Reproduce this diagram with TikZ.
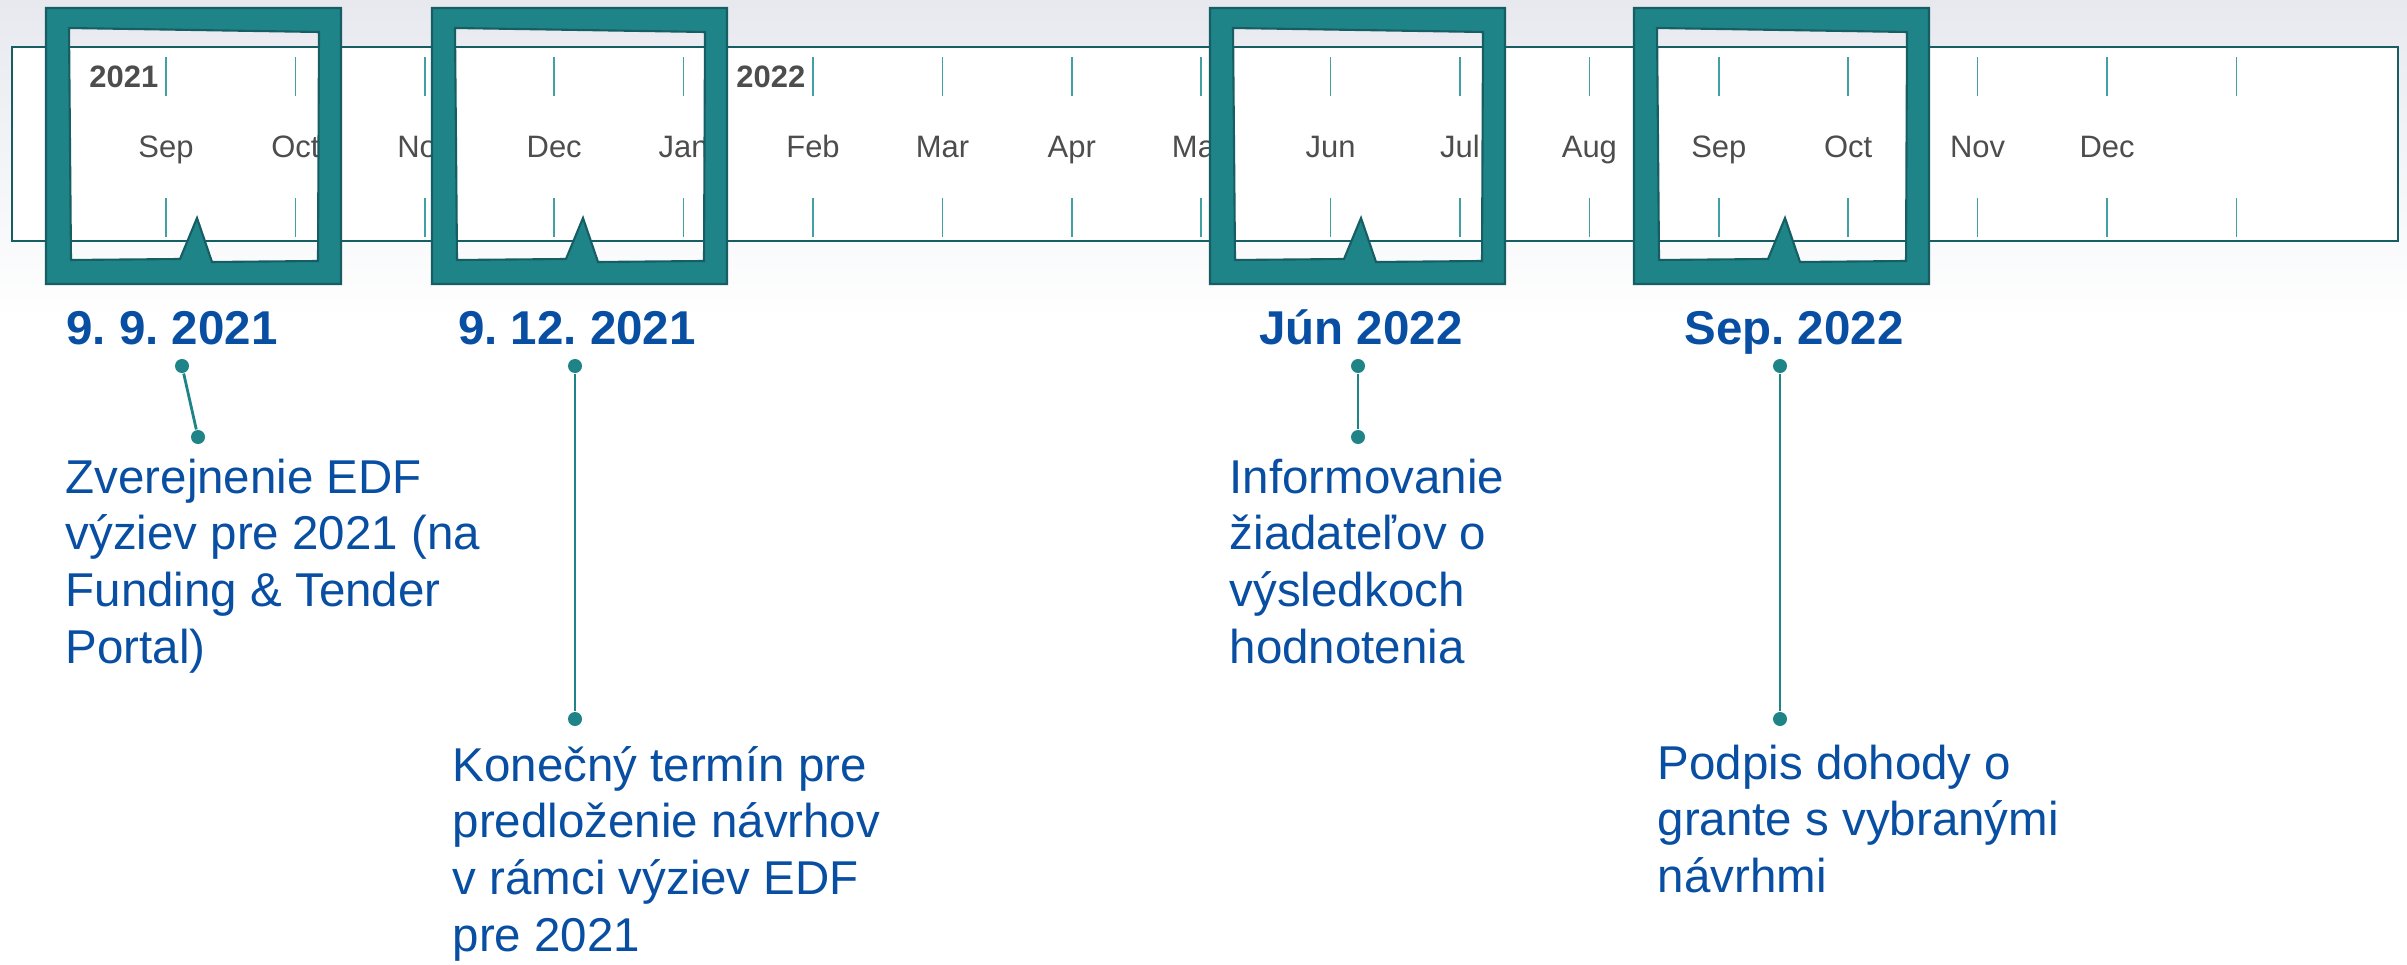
\documentclass[tikz,border=0pt]{standalone}
\usepackage{fontspec}
\setmainfont{Liberation Sans}
\frenchspacing
\definecolor{tealA}{RGB}{31,132,136}
\definecolor{tealD}{RGB}{22,94,100}
\definecolor{tickC}{RGB}{64,160,164}
\definecolor{blueT}{RGB}{8,78,162}
\definecolor{grayT}{RGB}{77,77,77}
\definecolor{bgTop}{RGB}{231,233,239}
\newcommand\fsMonth{\fontsize{8.8pt}{10pt}\selectfont}
\newcommand\fsBig{\fontsize{13.5pt}{16.2pt}\selectfont}
\newcommand\callframe[1]{%
  \begin{scope}[shift={(#1,0)}]
    \path[framestyle] (0,8) rectangle (295,284)
      (23,28) -- (273,32) -- (272,261) -- (166,262) -- (151,218) -- (134,259) -- (25,260) -- cycle;
  \end{scope}}
\tikzset{
  framestyle/.style={fill=tealA, draw=tealD, line width=0.6pt, even odd rule},
  bandstyle/.style={draw=tealD, fill=white, line width=0.7pt},
  tickstyle/.style={draw=tickC, line width=0.45pt},
  month/.style={font=\fsMonth, text=grayT, inner sep=0pt, anchor=base},
  yearlbl/.style={font=\fsMonth\bfseries, text=grayT, inner sep=0pt, anchor=base east},
  datelbl/.style={font=\fsBig\bfseries, text=blueT, inner sep=0pt, anchor=base},
  desc/.style={font=\fsBig, text=blueT, inner sep=0pt, anchor=base west},
  dot/.style={circle, fill=tealA, inner sep=0pt, minimum size=0.14cm},
  conn/.style={draw=tealA, line width=0.8pt}
}
\begin{document}
\begin{tikzpicture}[x=0.01cm, y=-0.01cm]
\useasboundingbox (0,0) rectangle (2407,964);
% background
\fill[white] (0,0) rectangle (2407,964);
\shade[top color=bgTop, bottom color=white] (0,0) rectangle (2407,320);
% band
\path[bandstyle] (12,47) rectangle (2398,241);
\foreach \k in {0,...,16} {
  \draw[tickstyle] ({166+129.4*\k},57) -- ({166+129.4*\k},96);
  \draw[tickstyle] ({166+129.4*\k},198) -- ({166+129.4*\k},237);
}
\foreach \m [count=\i from 0] in {Sep,Oct,Nov,Dec,Jan,Feb,Mar,Apr,May,Jun,Jul,Aug,Sep,Oct,Nov,Dec} {
  \node[month] (m\i) at ({166+129.4*\i},158) {\m};
}
\node[yearlbl] (y2021) at (159,88) {2021};
\node[yearlbl] (y2022) at (806,88) {2022};
% callout frames
\callframe{46}
\callframe{432}
\callframe{1210}
\callframe{1634}
% dates
\node[datelbl] (date1) at (172,344) {9. 9. 2021};
\node[datelbl] (date2) at (577,344) {9. 12. 2021};
\node[datelbl] (date3) at (1361,344) {Jún 2022};
\node[datelbl] (date4) at (1794,344) {Sep. 2022};
% dots and connectors
\node[dot] (d1a) at (182,366) {};
\node[dot] (d1b) at (198,437) {};
\node[dot] (d2a) at (575,366) {};
\node[dot] (d2b) at (575,719) {};
\node[dot] (d3a) at (1358,366) {};
\node[dot] (d3b) at (1358,437) {};
\node[dot] (d4a) at (1780,366) {};
\node[dot] (d4b) at (1780,719) {};
\draw[conn] (d1a) -- (d1b);
\draw[conn] (d2a) -- (d2b);
\draw[conn] (d3a) -- (d3b);
\draw[conn] (d4a) -- (d4b);
% descriptions
\node[desc] (t1) at (65,493) {\begin{tabular}[t]{@{}l@{}}Zverejnenie EDF\\výziev pre 2021 (na\\Funding \& Tender\\Portal)\end{tabular}};
\node[desc] (t2) at (452,781) {\begin{tabular}[t]{@{}l@{}}Konečný termín pre\\predloženie návrhov\\v rámci výziev EDF\\pre 2021\end{tabular}};
\node[desc] (t3) at (1229,493) {\begin{tabular}[t]{@{}l@{}}Informovanie\\žiadateľov o\\výsledkoch\\hodnotenia\end{tabular}};
\node[desc] (t4) at (1657,779) {\begin{tabular}[t]{@{}l@{}}Podpis dohody o\\grante s vybranými\\návrhmi\end{tabular}};
\end{tikzpicture}
\end{document}
